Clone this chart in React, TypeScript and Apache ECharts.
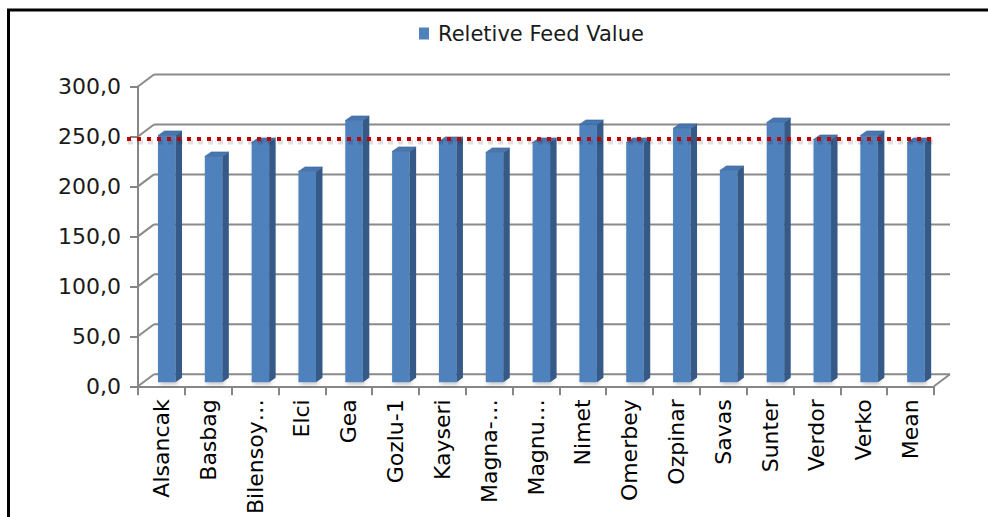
import React, { useEffect, useRef } from "react";
import * as echarts from "echarts";

const categories = [
  "Alsancak", "Basbag", "Bilensoy…", "Elci", "Gea", "Gozlu-1", "Kayseri", "Magna-…",
  "Magnu…", "Nimet", "Omerbey", "Ozpinar", "Savas", "Sunter", "Verdor", "Verko", "Mean",
];
const rfvValues = [247, 226, 240, 211, 262, 231, 241, 230, 240, 258, 240, 254, 212, 260, 243, 247, 240];
const refLineValue = 247.5;
const yTicks = [0, 50, 100, 150, 200, 250, 300];
const seriesName = "Reletive Feed Value";

const DEPTH_X = 16;
const DEPTH_Y = 12;

export default function App() {
  const ref = useRef<HTMLDivElement>(null);
  useEffect(() => {
    if (!ref.current) return;
    const chart = echarts.init(ref.current, undefined, { renderer: "svg" });
    const option: any = {
      animation: false,
      backgroundColor: "#ffffff",
      graphic: [
        {
          type: "rect",
          shape: { x: 8.5, y: 10, width: 1000, height: 530 },
          style: { fill: "none", stroke: "#000", lineWidth: 3 },
          z: 100,
        },
      ],
      legend: {
        data: [seriesName],
        left: 414,
        top: 18,
        icon: "rect",
        itemWidth: 10,
        itemHeight: 12,
        textStyle: { fontFamily: "DejaVu Sans", fontSize: 21, color: "#1a1a1a", padding: [0, 0, 0, 4] },
      },
      grid: { left: 138, right: 54, top: 86.5, bottom: 130 },
      xAxis: {
        type: "category",
        data: categories,
        axisLine: { show: true, lineStyle: { color: "#868686", width: 2 } },
        axisTick: { show: true, length: 9, interval: 0, lineStyle: { color: "#868686", width: 2 } },
        axisLabel: {
          rotate: 90,
          interval: 0,
          margin: 13,
          fontFamily: "DejaVu Sans",
          fontSize: 22,
          color: "#000",
        },
        splitLine: { show: false },
      },
      yAxis: {
        type: "value",
        min: 0,
        max: 300,
        interval: 50,
        axisLine: { show: true, lineStyle: { color: "#868686", width: 2 } },
        axisTick: { show: true, length: 8, lineStyle: { color: "#868686", width: 2 } },
        axisLabel: {
          margin: 17,
          fontFamily: "DejaVu Sans",
          fontSize: 22,
          color: "#1a1a1a",
          formatter: (v: number) => v.toFixed(1).replace(".", ","),
        },
        splitLine: { show: false },
      },
      series: [
        {
          type: "custom",
          name: "walls",
          silent: true,
          z: 1,
          data: yTicks.map((v) => [0, v]),
          encode: { x: 0, y: 1 },
          renderItem: (params: any, api: any) => {
            const v = api.value(1);
            const cs = params.coordSys;
            const L = cs.x;
            const R = cs.x + cs.width;
            const y = api.coord([0, v])[1];
            const stroke = { stroke: "#8a8a8a", lineWidth: 2 };
            const children: any[] = [
              { type: "line", shape: { x1: L, y1: y, x2: L + DEPTH_X, y2: y - DEPTH_Y }, style: stroke },
              { type: "line", shape: { x1: L + DEPTH_X, y1: y - DEPTH_Y, x2: R + DEPTH_X, y2: y - DEPTH_Y }, style: stroke },
            ];
            if (v === 0) {
              children.push({ type: "line", shape: { x1: R, y1: y, x2: R + DEPTH_X, y2: y - DEPTH_Y }, style: stroke });
            }
            return { type: "group", children };
          },
        },
        {
          type: "custom",
          name: seriesName,
          z: 2,
          itemStyle: { color: "#4F81BD" },
          data: rfvValues.map((v, i) => [i, v]),
          encode: { x: 0, y: 1 },
          renderItem: (params: any, api: any) => {
            const idx = api.value(0);
            const v = api.value(1);
            const top = api.coord([idx, v]);
            const base = api.coord([idx, 0]);
            const band = api.size([1, 0])[0];
            const w = band * 0.374;
            const ox = band * 0.114;
            const oy = 4;
            const x0 = top[0] + ox - w / 2;
            const x1 = x0 + w;
            const yt = top[1] - oy;
            const yb = base[1] - oy;
            const sdx = 6.5;
            const sdy = 4.5;
            return {
              type: "group",
              children: [
                {
                  type: "rect",
                  shape: { x: x0, y: yt, width: w, height: yb - yt },
                  style: { fill: "#4F81BD", shadowColor: "rgba(0,0,0,0.25)", shadowBlur: 4, shadowOffsetX: 2, shadowOffsetY: 2 },
                },
                {
                  type: "polygon",
                  shape: { points: [[x1, yt], [x1 + sdx, yt - sdy], [x1 + sdx, yb - sdy], [x1, yb]] },
                  style: { fill: "#355a88" },
                },
                {
                  type: "polygon",
                  shape: { points: [[x0, yt], [x1, yt], [x1 + sdx, yt - sdy], [x0 + sdx, yt - sdy]] },
                  style: { fill: "#4776b0", stroke: "#3a6296", lineWidth: 0.6 },
                },
              ],
            };
          },
        },
        {
          type: "custom",
          name: "ref",
          silent: true,
          z: 3,
          data: [[0, refLineValue]],
          encode: { x: 0, y: 1 },
          renderItem: (params: any, api: any) => {
            const cs = params.coordSys;
            const y = api.coord([0, api.value(1)])[1];
            const x1 = cs.x - 11;
            const x2 = cs.x + cs.width - 2;
            return {
              type: "group",
              children: [
                {
                  type: "line",
                  shape: { x1: x1 + 1, y1: y + 3, x2: x2 + 1, y2: y + 3 },
                  style: { stroke: "rgba(0,0,0,0.12)", lineWidth: 5, lineDash: [5, 5] },
                },
                {
                  type: "line",
                  shape: { x1, y1: y, x2, y2: y },
                  style: { stroke: "#C00000", lineWidth: 4, lineDash: [4, 6] },
                },
              ],
            };
          },
        },
      ],
    };
    chart.setOption(option);
    return () => chart.dispose();
  }, []);
  return (
    <div
      ref={ref}
      style={{ position: "fixed", left: 0, top: 0, width: 988, height: 517 }}
    />
  );
}
